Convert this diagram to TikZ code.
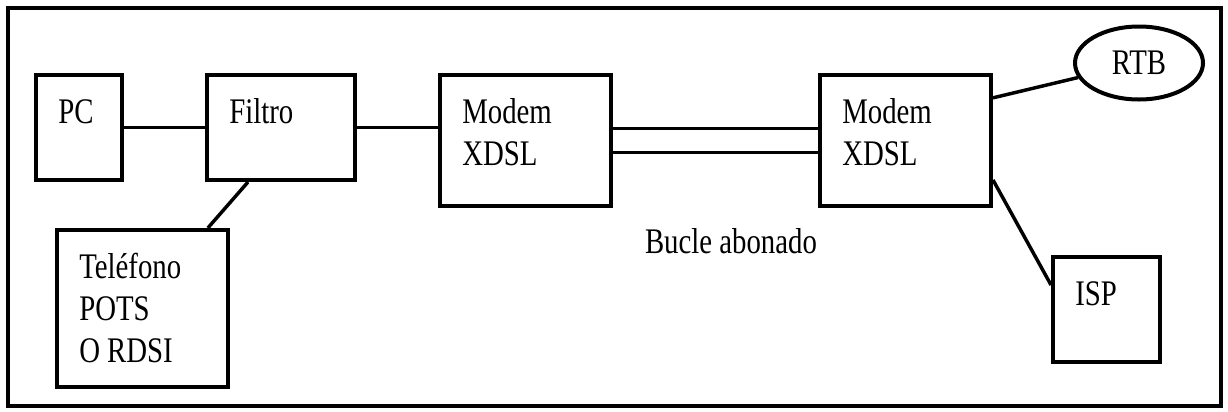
\documentclass[tikz,border=0pt]{standalone}
\usepackage{fontspec}
\setmainfont{Liberation Serif}[FakeStretch=0.8]
\usetikzlibrary{shapes.geometric}

\begin{document}
\begin{tikzpicture}[x=0.75pt,y=-0.75pt,
  box/.style={draw,line width=3pt,inner sep=0pt},
  tag/.style={font=\fontsize{27}{31.5}\selectfont,inner sep=0pt,anchor=base west,align=left,xshift=18pt,yshift=-38pt},
  tagtwo/.style={tag,yshift=-31.5pt},
  tagthree/.style={tag,yshift=-63pt},
  wire/.style={line width=2.6pt}]
\useasboundingbox (0,0) rectangle (1228,411);
% marco
\draw[line width=3.2pt] (8,8) rectangle (1221,406);
% lado del abonado
\node[box,minimum width=64.5pt,minimum height=78.75pt,label={[tag,name=pctxt]north west:PC}] (pc) at (79,127.5) {};
\node[box,minimum width=111pt,minimum height=78.75pt,label={[tag,name=filtxt]north west:Filtro}] (filtro) at (281,127.5) {};
\node[box,minimum width=128.25pt,minimum height=117.75pt,label={[tagthree,name=teltxt]north west:Teléfono\\POTS\\O RDSI}] (tel) at (142.5,308.5) {};
\node[box,minimum width=128.25pt,minimum height=98.25pt,label={[tagtwo,name=m1txt]north west:Modem\\XDSL}] (modem1) at (525.5,140.5) {};
% lado de la central
\node[box,minimum width=128.25pt,minimum height=98.25pt,label={[tagtwo,name=m2txt]north west:Modem\\XDSL}] (modem2) at (905.5,140.5) {};
\node[box,ellipse,minimum width=96pt,minimum height=54.75pt,font=\fontsize{27}{31.5}\selectfont] (rtb) at (1139,63) {RTB};
\node[box,minimum width=80.25pt,minimum height=78.75pt,label={[tag,name=isptxt]north west:ISP}] (isp) at (1106.5,309.5) {};
\node[font=\fontsize{27}{31.5}\selectfont,inner sep=0pt,anchor=base] (bucle) at (731,253) {Bucle abonado};
% conexiones
\draw[wire] (pc) -- (filtro);
\draw[wire] ([xshift=-24.75pt]filtro.south) -- ([xshift=49pt]tel.north);
\draw[wire] (filtro.east) -- (filtro.east -| modem1.west);
\draw[wire] ([yshift=9pt]modem1.east) -- ([yshift=9pt]modem1.east -| modem2.west);
\draw[wire] ([yshift=-9pt]modem1.east) -- ([yshift=-9pt]modem1.east -| modem2.west);
\draw[wire] ([yshift=32pt]modem2.east) -- (rtb);
\draw[wire] ([yshift=-29.6pt]modem2.east) -- ([yshift=18.4pt]isp.west);
\end{tikzpicture}
\end{document}
